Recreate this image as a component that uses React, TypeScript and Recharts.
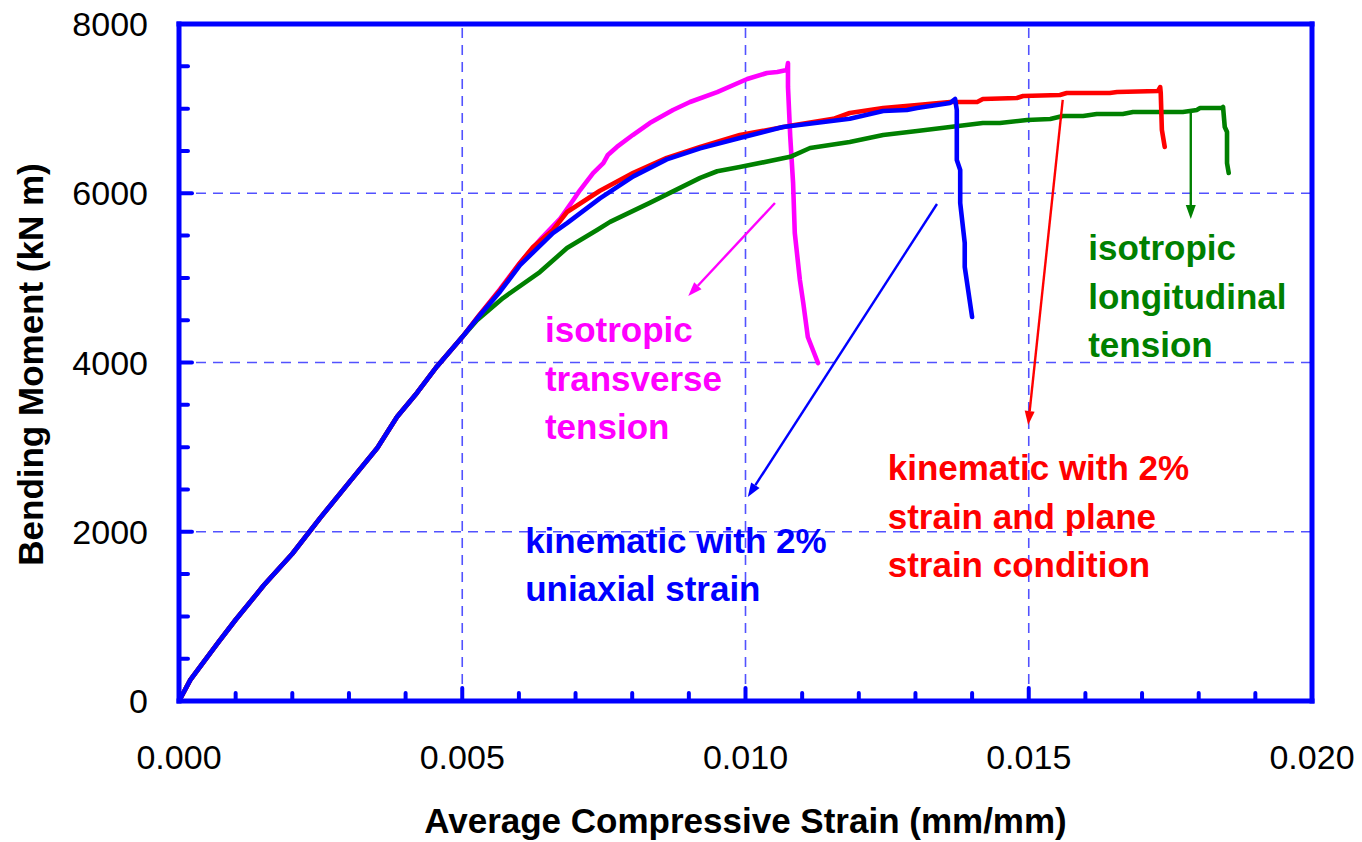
import React from "react"
import { LineChart, Line, XAxis, YAxis, ReferenceLine, ReferenceDot } from "recharts"

// axis ticks (minor every 0.001 / 500, labelled every 0.005 / 2000)
const xTicks = [0, 0.001, 0.002, 0.003, 0.004, 0.005, 0.006, 0.007, 0.008, 0.009, 0.01,
  0.011, 0.012, 0.013, 0.014, 0.015, 0.016, 0.017, 0.018, 0.019, 0.02]
const yTicks = [0, 500, 1000, 1500, 2000, 2500, 3000, 3500, 4000, 4500, 5000, 5500, 6000,
  6500, 7000, 7500, 8000]
const gridX = [0.005, 0.01, 0.015]
const gridY = [2000, 4000, 6000]

// common elastic branch shared by all four analyses
const elasticBranch: [number, number][] = [
  [0, 0], [0.0002, 250], [0.0004, 430], [0.0007, 700], [0.001, 960], [0.0015, 1370],
  [0.002, 1740], [0.0025, 2170], [0.003, 2580], [0.0035, 2990], [0.00385, 3360],
  [0.0042, 3640], [0.00455, 3950], [0.005, 4300],
]

// isotropic transverse tension (magenta)
const transverseTension: [number, number][] = [
  [0.0053, 4560], [0.00567, 4870], [0.00602, 5180], [0.0064, 5470], [0.00673, 5700],
  [0.00696, 5920], [0.00708, 6038], [0.00731, 6239], [0.00749, 6357], [0.00757, 6452],
  [0.00773, 6547], [0.00801, 6688], [0.00831, 6830], [0.00872, 6984], [0.00902, 7078],
  [0.0095, 7196], [0.01003, 7350], [0.01038, 7421], [0.01056, 7433], [0.01073, 7456],
  [0.01075, 7539], [0.01075, 7256], [0.01079, 6665], [0.01084, 6121], [0.01087, 5530],
  [0.01096, 4975], [0.01102, 4703], [0.0111, 4301], [0.01128, 3994],
]

// isotropic longitudinal tension (green)
const longitudinalTension: [number, number][] = [
  [0.00526, 4500], [0.00572, 4762], [0.00637, 5069], [0.00685, 5353], [0.00738, 5566],
  [0.00761, 5662], [0.00831, 5887], [0.0092, 6182], [0.0095, 6260], [0.0099, 6310],
  [0.01079, 6430], [0.01114, 6535], [0.01184, 6605], [0.01243, 6688], [0.01303, 6736],
  [0.01361, 6783], [0.01419, 6830], [0.01449, 6830], [0.01497, 6866], [0.01538, 6877],
  [0.0156, 6913], [0.01596, 6913], [0.0162, 6937], [0.01666, 6937], [0.01684, 6960],
  [0.01772, 6960], [0.01797, 6984], [0.01802, 7007], [0.01841, 7007], [0.01843, 7019],
  [0.01846, 6783], [0.0185, 6724], [0.0185, 6357], [0.01853, 6239],
]

// kinematic with 2% strain and plane strain condition (red)
const planeStrain: [number, number][] = [
  [0.0053, 4560], [0.00567, 4860], [0.00602, 5176], [0.00625, 5366], [0.0066, 5566],
  [0.00685, 5778], [0.00743, 6030], [0.00802, 6241], [0.00861, 6418], [0.0092, 6548],
  [0.0099, 6688], [0.01079, 6797], [0.01155, 6879], [0.01184, 6948], [0.01243, 7007],
  [0.01303, 7043], [0.01361, 7078], [0.01409, 7078], [0.01419, 7114], [0.01479, 7126],
  [0.0149, 7149], [0.01555, 7161], [0.01567, 7185], [0.01643, 7185], [0.01656, 7197],
  [0.01728, 7208], [0.01732, 7255], [0.01733, 7185], [0.01735, 6748], [0.0174, 6547],
]

// kinematic with 2% uniaxial strain (blue)
const uniaxialStrain: [number, number][] = [
  [0.0053, 4550], [0.00567, 4840], [0.00602, 5150], [0.0066, 5530], [0.00685, 5648],
  [0.00743, 5940], [0.00802, 6200], [0.00861, 6400], [0.0092, 6530], [0.0099, 6653],
  [0.01066, 6783], [0.01184, 6880], [0.01243, 6972], [0.01285, 6984], [0.01303, 7007],
  [0.01361, 7066], [0.0137, 7114], [0.01373, 6984], [0.01373, 6393], [0.01379, 6275],
  [0.01379, 5885], [0.01387, 5412], [0.01387, 5129], [0.014, 4538],
]

// annotation arrows: [tailX, tailY, headX, headY]
const arrowTransverse = [0.01052, 5885, 0.00899, 4786]
const arrowUniaxial = [0.01338, 5873, 0.01004, 2411]
const arrowPlane = [0.0156, 7102, 0.01499, 3261]
const arrowLongitudinal = [0.01786, 6960, 0.01786, 5696]

// annotation texts: anchor of first line and the lines
const labelTransverse = { x: 0.00646, y: 4242, lines: ["isotropic", "transverse", "tension"] }
const labelUniaxial = { x: 0.00611, y: 1749, lines: ["kinematic with 2%", "uniaxial strain"] }
const labelPlane = { x: 0.01251, y: 2611, lines: ["kinematic with 2%", "strain and plane", "strain condition"] }
const labelLongitudinal = { x: 0.01605, y: 5211, lines: ["isotropic", "longitudinal", "tension"] }

const FONT = '"Liberation Sans", Arial, Helvetica, sans-serif'
const AXIS_BLUE = "#0000ff"
const GRID_BLUE = "#5252ff"

const toPoints = (rest: [number, number][]) =>
  [...elasticBranch, ...rest].map(([x, y]) => ({ x, y }))

const XTick = (props: any) => {
  const { x, y, payload } = props
  const v = payload.value as number
  const major = Math.round(v * 1000) % 5 === 0
  return (
    <g>
      <line x1={x} y1={y} x2={x} y2={y - (major ? 13 : 8)} stroke={AXIS_BLUE} strokeWidth={4} strokeLinecap="round" />
      {major && (
        <text x={x} y={y + 68} textAnchor="middle" fontSize={34} fontFamily={FONT} fill="#000">
          {v.toFixed(3)}
        </text>
      )}
    </g>
  )
}

const YTick = (props: any) => {
  const { x, y, payload } = props
  const v = payload.value as number
  const major = v % 2000 === 0
  return (
    <g>
      <line x1={x} y1={y} x2={x + (major ? 13 : 9)} y2={y} stroke={AXIS_BLUE} strokeWidth={4} strokeLinecap="round" />
      {major && (
        <text x={x - 31} y={y + 12} textAnchor="end" fontSize={34} fontFamily={FONT} fill="#000">
          {v}
        </text>
      )}
    </g>
  )
}

const arrowShape = (color: string) => (props: any) => {
  const { x1, y1, x2, y2 } = props
  if ([x1, y1, x2, y2].some((v) => typeof v !== "number")) return <g />
  const ang = Math.atan2(y2 - y1, x2 - x1)
  const len = 14
  const half = 5
  const bx = x2 - len * Math.cos(ang)
  const by = y2 - len * Math.sin(ang)
  const px = -Math.sin(ang) * half
  const py = Math.cos(ang) * half
  return (
    <g>
      <line x1={x1} y1={y1} x2={bx} y2={by} stroke={color} strokeWidth={2.4} />
      <polygon points={`${x2},${y2} ${bx + px},${by + py} ${bx - px},${by - py}`} fill={color} />
    </g>
  )
}

const textShape = (color: string, lines: string[]) => (props: any) => (
  <text x={props.cx} y={props.cy} fill={color} fontSize={35} fontWeight="bold" fontFamily={FONT}>
    {lines.map((l, i) => (
      <tspan key={l + i} x={props.cx} dy={i === 0 ? 0 : 48.5}>{l}</tspan>
    ))}
  </text>
)

const XTitle = (props: any) => {
  const { viewBox } = props
  return (
    <text x={viewBox.x + viewBox.width / 2} y={viewBox.y + 132} textAnchor="middle"
      fontSize={35} fontWeight="bold" fontFamily={FONT} fill="#000">
      Average Compressive Strain (mm/mm)
    </text>
  )
}

const YTitle = (props: any) => {
  const { viewBox } = props
  const cy = viewBox.y + viewBox.height / 2 + 2
  return (
    <text x={43} y={cy} transform={`rotate(-90, 43, ${cy})`} textAnchor="middle"
      fontSize={35} fontWeight="bold" fontFamily={FONT} fill="#000">
      Bending Moment (kN m)
    </text>
  )
}

export default function App() {
  const arrows = [
    { seg: arrowTransverse, color: "#ff00ff" },
    { seg: arrowUniaxial, color: "#0000ff" },
    { seg: arrowPlane, color: "#ff0000" },
    { seg: arrowLongitudinal, color: "#008000" },
  ]
  const labels = [
    { ...labelTransverse, color: "#ff00ff" },
    { ...labelUniaxial, color: "#0000ff" },
    { ...labelPlane, color: "#ff0000" },
    { ...labelLongitudinal, color: "#008000" },
  ]

  return (
    <div style={{ position: "absolute", left: 0, top: 0, background: "#fff" }}>
      <LineChart width={1362} height={842} margin={{ top: 24, right: 50, bottom: 0, left: 0 }}>
        <XAxis
          dataKey="x"
          type="number"
          domain={[0, 0.02]}
          ticks={xTicks}
          interval={0}
          allowDataOverflow
          axisLine={false}
          tickLine={false}
          tickSize={0}
          tickMargin={0}
          height={141}
          tick={<XTick />}
          label={<XTitle />}
        />
        <YAxis
          dataKey="y"
          type="number"
          domain={[0, 8000]}
          ticks={yTicks}
          interval={0}
          allowDataOverflow
          axisLine={false}
          tickLine={false}
          tickSize={0}
          tickMargin={0}
          width={179}
          tick={<YTick />}
          label={<YTitle />}
        />

        {gridX.map((v) => (
          <ReferenceLine key={"gx" + v} x={v} stroke={GRID_BLUE} strokeWidth={1.6} strokeDasharray="10 7" />
        ))}
        {gridY.map((v) => (
          <ReferenceLine key={"gy" + v} y={v} stroke={GRID_BLUE} strokeWidth={1.6} strokeDasharray="10 7" />
        ))}

        <Line data={toPoints(transverseTension)} dataKey="y" stroke="#ff00ff" strokeWidth={4.6}
          dot={false} isAnimationActive={false} strokeLinejoin="round" strokeLinecap="round" />
        <Line data={toPoints(longitudinalTension)} dataKey="y" stroke="#008000" strokeWidth={4.6}
          dot={false} isAnimationActive={false} strokeLinejoin="round" strokeLinecap="round" />
        <Line data={toPoints(planeStrain)} dataKey="y" stroke="#ff0000" strokeWidth={4.6}
          dot={false} isAnimationActive={false} strokeLinejoin="round" strokeLinecap="round" />
        <Line data={toPoints(uniaxialStrain)} dataKey="y" stroke="#0000ff" strokeWidth={4.6}
          dot={false} isAnimationActive={false} strokeLinejoin="round" strokeLinecap="round" />

        {arrows.map((a, i) => (
          <ReferenceLine
            key={"arrow" + i}
            segment={[{ x: a.seg[0], y: a.seg[1] }, { x: a.seg[2], y: a.seg[3] }]}
            ifOverflow="visible"
            shape={arrowShape(a.color)}
          />
        ))}
        {labels.map((l, i) => (
          <ReferenceDot key={"label" + i} x={l.x} y={l.y} r={0} ifOverflow="visible"
            shape={textShape(l.color, l.lines)} />
        ))}

        {/* blue frame round the plot */}
        <ReferenceLine x={0} stroke={AXIS_BLUE} strokeWidth={5} strokeLinecap="square" />
        <ReferenceLine x={0.02} stroke={AXIS_BLUE} strokeWidth={5} strokeLinecap="square" />
        <ReferenceLine y={0} stroke={AXIS_BLUE} strokeWidth={5} strokeLinecap="square" />
        <ReferenceLine y={8000} stroke={AXIS_BLUE} strokeWidth={5} strokeLinecap="square" />
      </LineChart>
    </div>
  )
}
